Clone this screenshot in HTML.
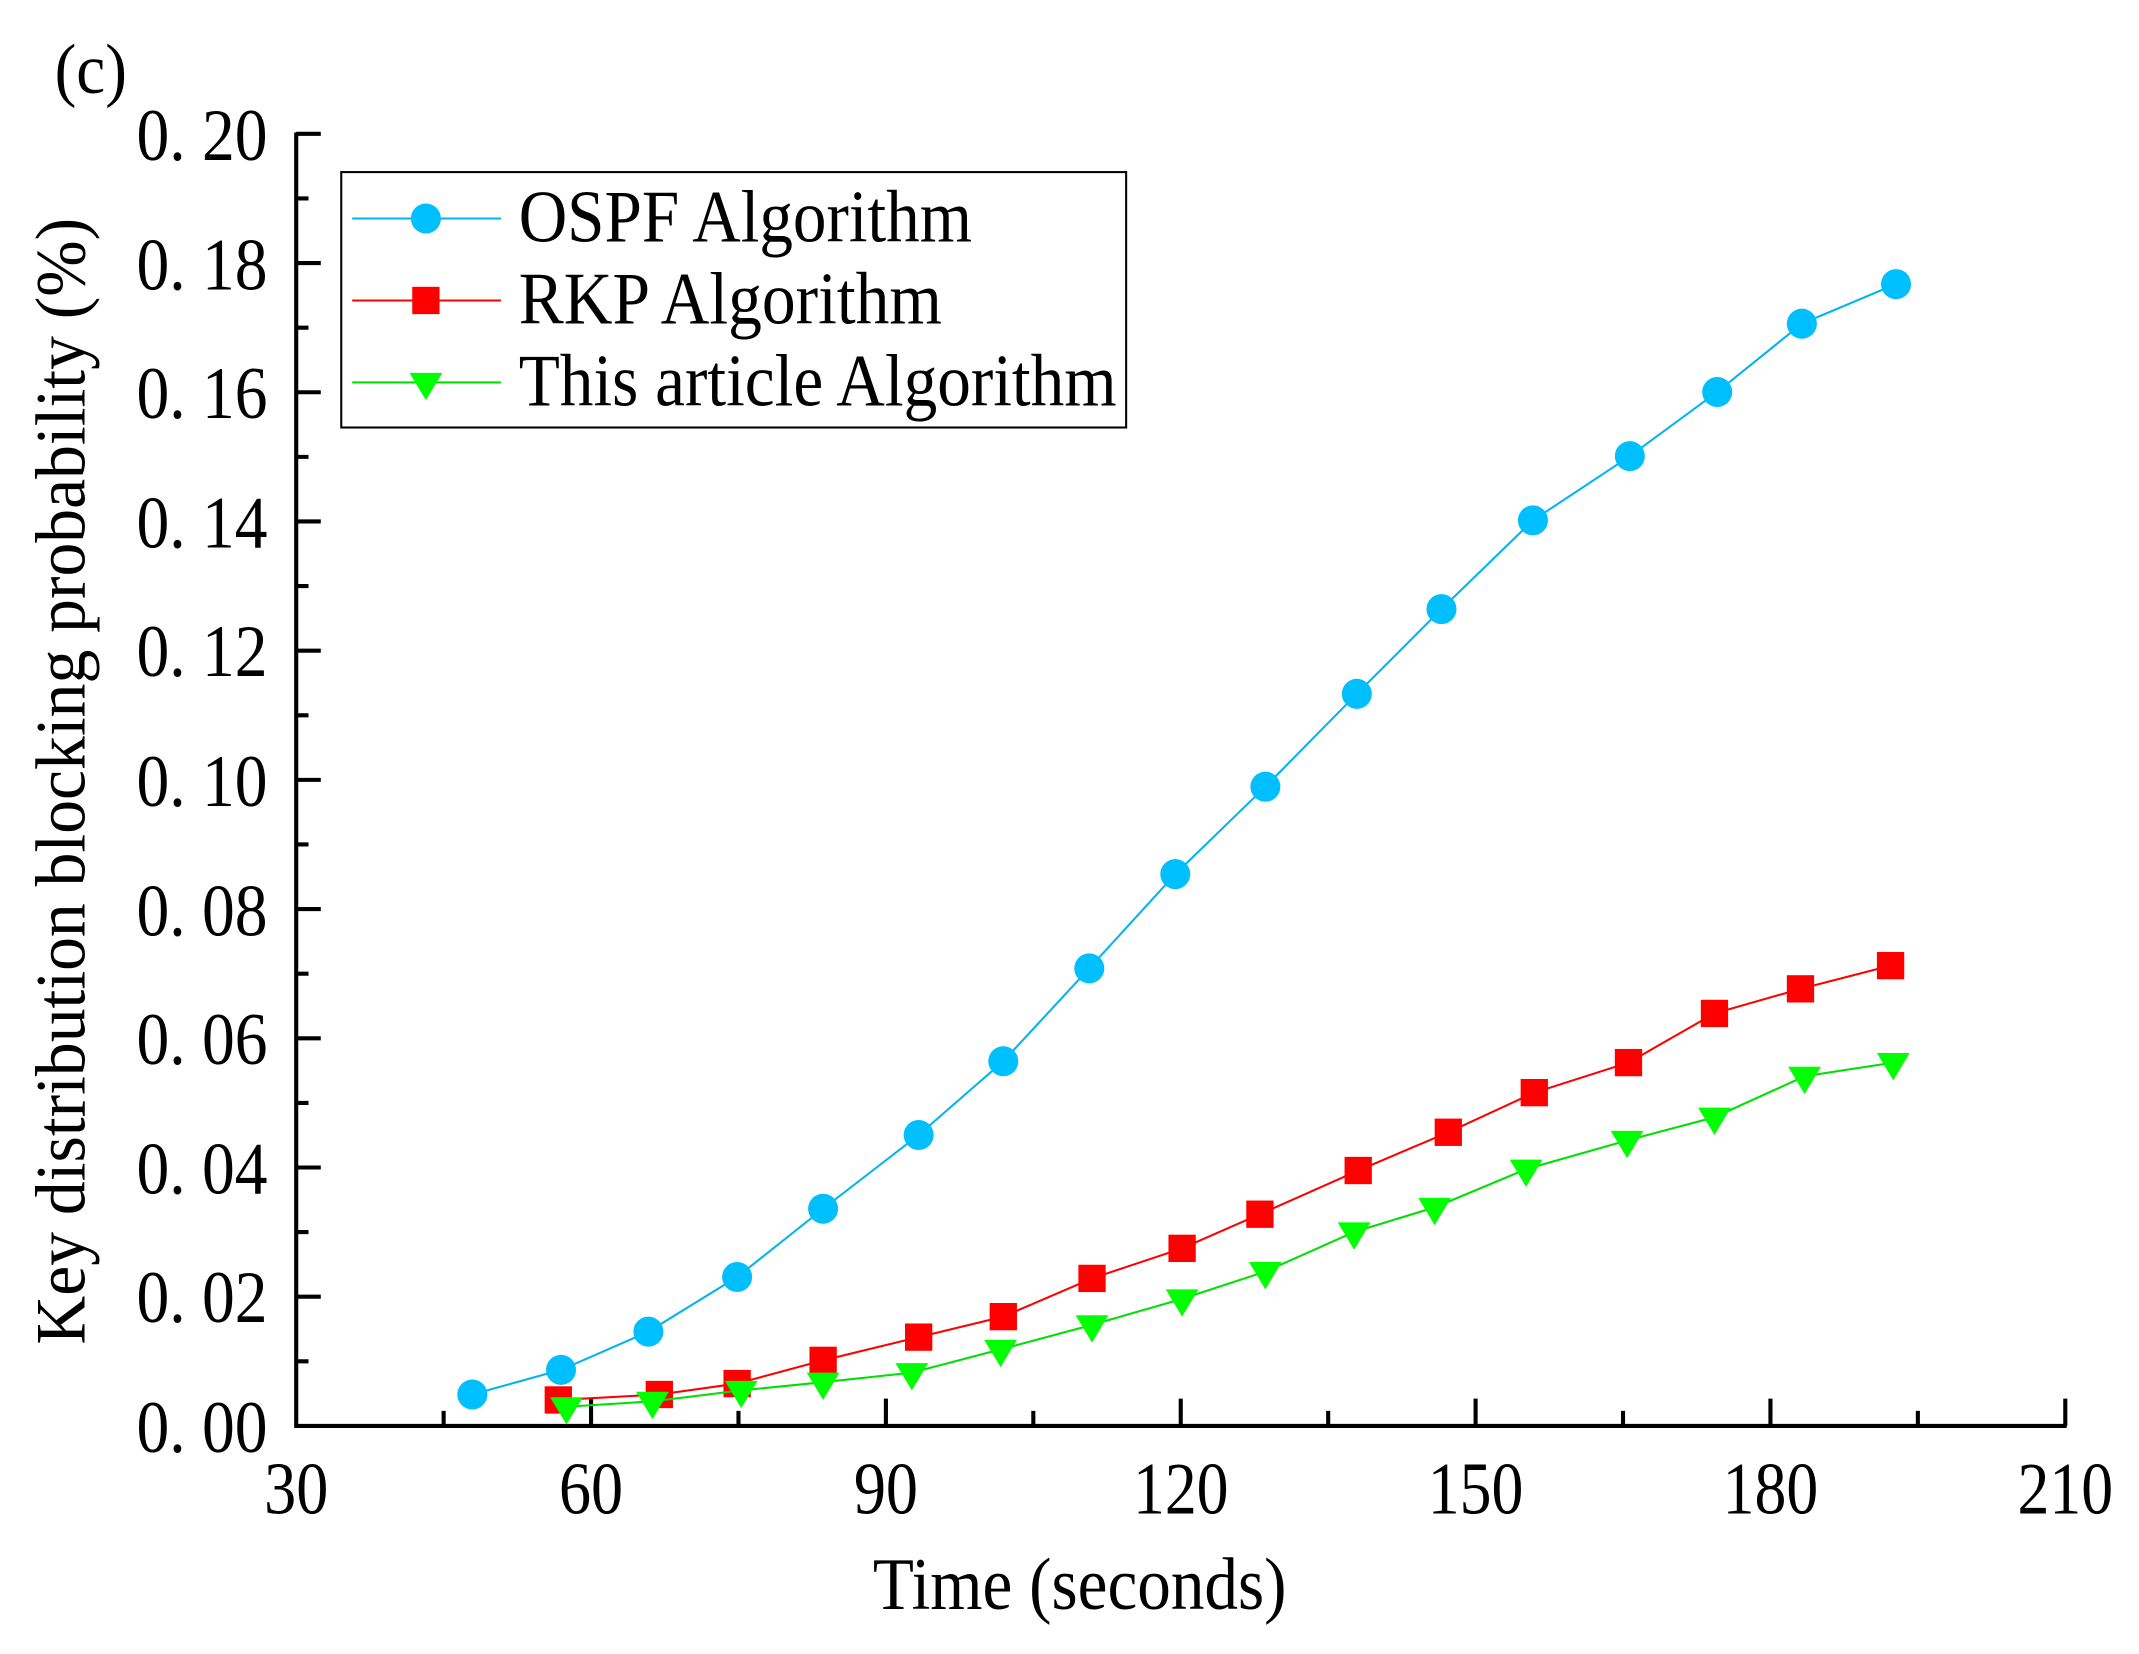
<!DOCTYPE html>
<html><head><meta charset="utf-8"><style>html,body{margin:0;padding:0;background:#fff}svg{display:block}</style></head>
<body>
<svg width="2139" height="1654" viewBox="0 0 1567 1211" preserveAspectRatio="none" xmlns="http://www.w3.org/2000/svg" font-family="'Liberation Serif',serif">
<rect width="1567" height="1211" fill="#fff"/>
<text x="40" y="68" font-size="52" textLength="53" lengthAdjust="spacingAndGlyphs">(c)</text>
<g stroke="#000" stroke-width="3" fill="none">
<path d="M217,97 V1044 H1514"/>
<path d="M217,98h18M217,192.6h18M217,287.2h18M217,381.8h18M217,476.4h18M217,571h18M217,665.6h18M217,760.2h18M217,854.8h18M217,949.4h18"/>
<path d="M217,145.3h9M217,239.9h9M217,334.5h9M217,429.1h9M217,523.7h9M217,618.3h9M217,712.9h9M217,807.5h9M217,902.1h9M217,996.7h9"/>
<path d="M433,1044v-20M649,1044v-20M865,1044v-20M1081,1044v-20M1297,1044v-20M1513,1044v-20"/>
<path d="M325,1044v-11M541,1044v-11M757,1044v-11M973,1044v-11M1189,1044v-11M1405,1044v-11"/>
</g>
<g font-size="54" text-anchor="end">
<text x="196" y="117" textLength="96" lengthAdjust="spacingAndGlyphs">0. 20</text><text x="196" y="212" textLength="96" lengthAdjust="spacingAndGlyphs">0. 18</text><text x="196" y="306" textLength="96" lengthAdjust="spacingAndGlyphs">0. 16</text><text x="196" y="401" textLength="96" lengthAdjust="spacingAndGlyphs">0. 14</text><text x="196" y="495" textLength="96" lengthAdjust="spacingAndGlyphs">0. 12</text><text x="196" y="590" textLength="96" lengthAdjust="spacingAndGlyphs">0. 10</text><text x="196" y="685" textLength="96" lengthAdjust="spacingAndGlyphs">0. 08</text><text x="196" y="779" textLength="96" lengthAdjust="spacingAndGlyphs">0. 06</text><text x="196" y="874" textLength="96" lengthAdjust="spacingAndGlyphs">0. 04</text><text x="196" y="968" textLength="96" lengthAdjust="spacingAndGlyphs">0. 02</text><text x="196" y="1063" textLength="96" lengthAdjust="spacingAndGlyphs">0. 00</text>
</g>
<g font-size="54" text-anchor="middle">
<text x="217" y="1108" textLength="47" lengthAdjust="spacingAndGlyphs">30</text><text x="433" y="1108" textLength="47" lengthAdjust="spacingAndGlyphs">60</text><text x="649" y="1108" textLength="47" lengthAdjust="spacingAndGlyphs">90</text><text x="865" y="1108" textLength="70" lengthAdjust="spacingAndGlyphs">120</text><text x="1081" y="1108" textLength="70" lengthAdjust="spacingAndGlyphs">150</text><text x="1297" y="1108" textLength="70" lengthAdjust="spacingAndGlyphs">180</text><text x="1513" y="1108" textLength="70" lengthAdjust="spacingAndGlyphs">210</text>
</g>
<text x="791" y="1178" font-size="54" text-anchor="middle" textLength="303" lengthAdjust="spacingAndGlyphs">Time (seconds)</text>
<text transform="translate(62,572) rotate(-90)" font-size="52" text-anchor="middle" textLength="825" lengthAdjust="spacingAndGlyphs">Key distribution blocking probability (%)</text>

<polyline fill="none" stroke="#00b4f0" stroke-width="1.5" points="346,1021 411,1003 475,975 540,935 603,885 673,831 735,777 798,709 861,640 927,576 994,508 1056,446 1123,381 1194,334 1258,287 1320,237 1389,208"/>
<g fill="#00bfff">
<circle cx="346" cy="1021" r="11"/><circle cx="411" cy="1003" r="11"/><circle cx="475" cy="975" r="11"/><circle cx="540" cy="935" r="11"/><circle cx="603" cy="885" r="11"/><circle cx="673" cy="831" r="11"/><circle cx="735" cy="777" r="11"/><circle cx="798" cy="709" r="11"/><circle cx="861" cy="640" r="11"/><circle cx="927" cy="576" r="11"/><circle cx="994" cy="508" r="11"/><circle cx="1056" cy="446" r="11"/><circle cx="1123" cy="381" r="11"/><circle cx="1194" cy="334" r="11"/><circle cx="1258" cy="287" r="11"/><circle cx="1320" cy="237" r="11"/><circle cx="1389" cy="208" r="11"/>
</g>
<polyline fill="none" stroke="#f00" stroke-width="1.5" points="409,1025 483,1021 540,1013 603,996 673,979 735,964 800,936 866,914 923,889 995,857 1061,829 1124,800 1193,778 1256,742 1319,724 1385,707"/>
<g fill="#f00">
<rect x="399" y="1015" width="20" height="20"/><rect x="473" y="1011" width="20" height="20"/><rect x="530" y="1003" width="20" height="20"/><rect x="593" y="986" width="20" height="20"/><rect x="663" y="969" width="20" height="20"/><rect x="725" y="954" width="20" height="20"/><rect x="790" y="926" width="20" height="20"/><rect x="856" y="904" width="20" height="20"/><rect x="913" y="879" width="20" height="20"/><rect x="985" y="847" width="20" height="20"/><rect x="1051" y="819" width="20" height="20"/><rect x="1114" y="790" width="20" height="20"/><rect x="1183" y="768" width="20" height="20"/><rect x="1246" y="732" width="20" height="20"/><rect x="1309" y="714" width="20" height="20"/><rect x="1375" y="697" width="20" height="20"/>
</g>
<polyline fill="none" stroke="#00e000" stroke-width="1.5" points="415,1030 478,1026 543,1018 603,1012 668,1005 733,988 800,970 866,951 927,931 992,902 1051,884 1118,856 1192,835 1256,818 1322,788 1387,778"/>
<g fill="#00ff00">
<path d="M403,1023h24l-12,20z"/><path d="M466,1019h24l-12,20z"/><path d="M531,1011h24l-12,20z"/><path d="M591,1005h24l-12,20z"/><path d="M656,998h24l-12,20z"/><path d="M721,981h24l-12,20z"/><path d="M788,963h24l-12,20z"/><path d="M854,944h24l-12,20z"/><path d="M915,924h24l-12,20z"/><path d="M980,895h24l-12,20z"/><path d="M1039,877h24l-12,20z"/><path d="M1106,849h24l-12,20z"/><path d="M1180,828h24l-12,20z"/><path d="M1244,811h24l-12,20z"/><path d="M1310,781h24l-12,20z"/><path d="M1375,771h24l-12,20z"/>
</g>

<rect x="250" y="126" width="575" height="187" fill="#fff" stroke="#000" stroke-width="1.5"/>
<line x1="258" y1="160" x2="367" y2="160" stroke="#00b4f0" stroke-width="1.5"/>
<circle cx="312" cy="160" r="11" fill="#00bfff"/>
<line x1="258" y1="220" x2="367" y2="220" stroke="#f00" stroke-width="1.5"/>
<rect x="302" y="210" width="20" height="20" fill="#f00"/>
<line x1="258" y1="280" x2="367" y2="280" stroke="#00e000" stroke-width="1.5"/>
<path d="M300,273h24l-12,20z" fill="#00ff00"/>
<g font-size="54">
<text x="380" y="177" textLength="332" lengthAdjust="spacingAndGlyphs">OSPF Algorithm</text>
<text x="380" y="237" textLength="310" lengthAdjust="spacingAndGlyphs">RKP Algorithm</text>
<text x="380" y="297" textLength="438" lengthAdjust="spacingAndGlyphs">This article Algorithm</text>
</g>
</svg>
</body></html>
